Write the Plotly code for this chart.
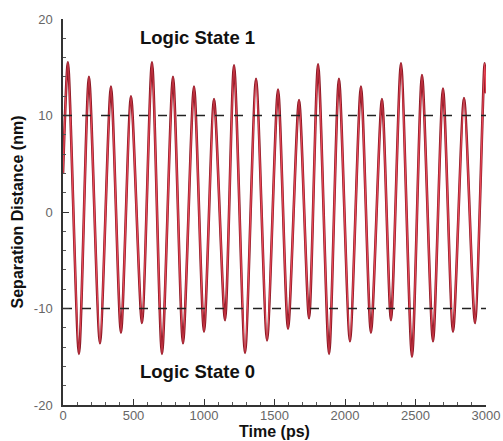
import plotly.graph_objects as go

# Extrema of the separation-distance oscillation (time in ps, distance in nm)
time_ps = [0, 35, 113, 184, 262, 340, 411, 482, 560, 631, 702, 780, 851, 929, 1000,
           1071, 1149, 1213, 1291, 1369, 1447, 1525, 1596, 1674, 1745, 1809, 1887,
           1957, 2035, 2113, 2184, 2262, 2326, 2397, 2475, 2546, 2624, 2695, 2766,
           2844, 2922, 2990, 3000]
separation_nm = [4.0, 15.5, -14.7, 14.0, -13.6, 13.0, -12.5, 12.0, -11.5, 15.5, -14.7,
                 14.0, -13.6, 13.0, -12.4, 11.7, -11.2, 15.2, -14.6, 13.8, -13.3, 12.7,
                 -12.1, 11.6, -11.0, 15.3, -14.7, 13.8, -13.4, 13.0, -12.5, 11.7, -11.2,
                 15.4, -15.0, 14.2, -13.4, 12.8, -12.4, 11.8, -11.5, 15.4, 12.3]

threshold_levels = [10, -10]
threshold_span = [0, 3000]
state_labels = ["Logic State 1", "Logic State 0"]
state_label_pos = [18.1, -16.5]
y_tick_vals = [-20, -10, 0, 10, 20]
y_tick_text = ["-20", "-10", "0", "10", "20"]

fig = go.Figure()

fig.add_trace(go.Scatter(x=time_ps, y=separation_nm, mode="lines",
                         line=dict(color="#8b1a26", width=2.6, shape="spline", smoothing=0.7),
                         hoverinfo="skip", showlegend=False))
fig.add_trace(go.Scatter(x=time_ps, y=separation_nm, mode="lines",
                         line=dict(color="#ea4656", width=1.3, shape="spline", smoothing=0.7),
                         showlegend=False))

for lvl in threshold_levels:
    fig.add_trace(go.Scatter(x=threshold_span, y=[lvl, lvl], mode="lines",
                             line=dict(color="#222222", width=1.6, dash="9px,10px"),
                             showlegend=False))

for txt, yv in zip(state_labels, state_label_pos):
    fig.add_annotation(x=955, y=yv, text="<b>%s</b>" % txt, showarrow=False,
                       font=dict(family="Liberation Sans, Arial", size=18.5, color="#111"))

axis_common = dict(showline=True, linecolor="#333", linewidth=1.5, showgrid=False,
                   zeroline=False, ticks="inside", ticklen=6, tickcolor="#333",
                   tickwidth=1.2, mirror=False, automargin=False,
                   tickfont=dict(family="Liberation Sans, Arial", size=13, color="#666"))

fig.update_layout(
    width=503, height=441,
    margin=dict(l=63, r=17, t=19, b=36),
    paper_bgcolor="white", plot_bgcolor="white",
    xaxis=dict(range=[0, 3000], dtick=500, tick0=0,
               minor=dict(ticks="inside", ticklen=3, dtick=100, tickcolor="#555"),
               title=dict(text="<b>Time (ps)</b>", standoff=0,
                          font=dict(family="Liberation Sans, Arial", size=16, color="#111")),
               ticklabelstandoff=-2, **axis_common),
    yaxis=dict(range=[-20, 20], tickmode="array", tickvals=y_tick_vals, ticktext=y_tick_text,
               minor=dict(ticks="inside", ticklen=3, dtick=2, tick0=-20, tickcolor="#555"),
               title=dict(text="<b>Separation Distance (nm)</b>", standoff=6,
                          font=dict(family="Liberation Sans, Arial", size=16, color="#111")),
               ticklabelstandoff=6, **axis_common),
)

fig.write_html("out.html")
